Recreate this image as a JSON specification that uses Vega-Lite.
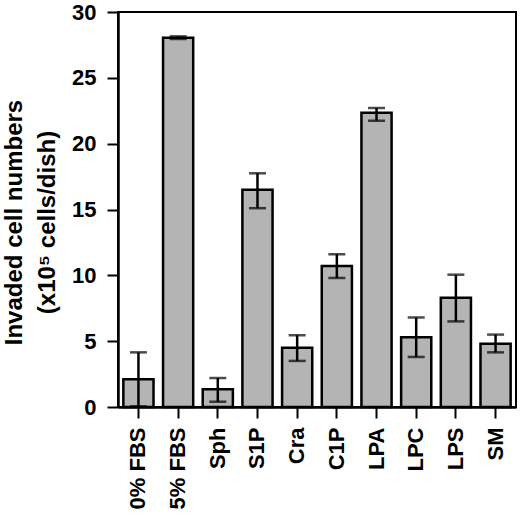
{
  "$schema": "https://vega.github.io/schema/vega-lite/v6.json",
  "width": 398,
  "height": 395,
  "autosize": {"type": "none"},
  "padding": {"left": 118, "top": 12, "right": 4, "bottom": 122},
  "background": "white",
  "config": {
    "view": {"stroke": "black", "strokeWidth": 2},
    "font": "Liberation Sans"
  },
  "data": {
    "values": [
      {"group": "0% FBS", "value": 2.1, "lo": 0.05, "hi": 4.15},
      {"group": "5% FBS", "value": 28.05, "lo": 27.95, "hi": 28.15},
      {"group": "Sph", "value": 1.35, "lo": 0.4, "hi": 2.2},
      {"group": "S1P", "value": 16.5, "lo": 15.1, "hi": 17.75},
      {"group": "Cra", "value": 4.5, "lo": 3.5, "hi": 5.45},
      {"group": "C1P", "value": 10.7, "lo": 9.8, "hi": 11.6},
      {"group": "LPA", "value": 22.35, "lo": 21.75, "hi": 22.7},
      {"group": "LPC", "value": 5.3, "lo": 3.8, "hi": 6.8},
      {"group": "LPS", "value": 8.3, "lo": 6.5, "hi": 10.05},
      {"group": "SM", "value": 4.8, "lo": 4.15, "hi": 5.5}
    ]
  },
  "encoding": {
    "x": {
      "field": "group",
      "type": "nominal",
      "sort": null,
      "scale": {"paddingInner": 0.24, "paddingOuter": 0.135},
      "axis": {
        "title": null,
        "labelAngle": -90,
        "labelFont": "Liberation Sans",
        "labelFontWeight": "bold",
        "labelFontSize": 22,
        "labelColor": "black",
        "labelPadding": 9,
        "tickSize": 11,
        "tickWidth": 2,
        "tickColor": "black",
        "domainColor": "black",
        "domainWidth": 2.5
      }
    }
  },
  "layer": [
    {
      "mark": {"type": "bar", "fill": "#b4b4b4", "stroke": "black", "strokeWidth": 2.5},
      "encoding": {
        "y": {
          "field": "value",
          "type": "quantitative",
          "scale": {"domain": [0, 30], "nice": false},
          "axis": {
            "values": [0, 5, 10, 15, 20, 25, 30],
            "grid": false,
            "title": ["Invaded cell numbers", "(x10⁵ cells/dish)"],
            "titleFont": "Liberation Sans",
            "titleFontWeight": "bold",
            "titleFontSize": 24,
            "titleColor": "black",
            "titleLineHeight": 33,
            "titleAngle": -90,
            "titleBaseline": "alphabetic",
            "titleAlign": "center",
            "titleX": -97,
            "titleY": 210,
            "labelFont": "Liberation Sans",
            "labelFontWeight": "bold",
            "labelFontSize": 22,
            "labelColor": "black",
            "labelPadding": 11,
            "tickSize": 11,
            "tickWidth": 2,
            "tickColor": "black",
            "domainColor": "black",
            "domainWidth": 2.5
          }
        }
      }
    },
    {
      "mark": {"type": "rule", "color": "black", "strokeWidth": 2.5},
      "encoding": {
        "y": {"field": "lo", "type": "quantitative"},
        "y2": {"field": "hi"}
      }
    },
    {
      "mark": {"type": "tick", "color": "black", "thickness": 2.5, "size": 17},
      "encoding": {
        "y": {"field": "hi", "type": "quantitative"}
      }
    },
    {
      "mark": {"type": "tick", "color": "black", "thickness": 2.5, "size": 17},
      "encoding": {
        "y": {"field": "lo", "type": "quantitative"}
      }
    }
  ]
}
